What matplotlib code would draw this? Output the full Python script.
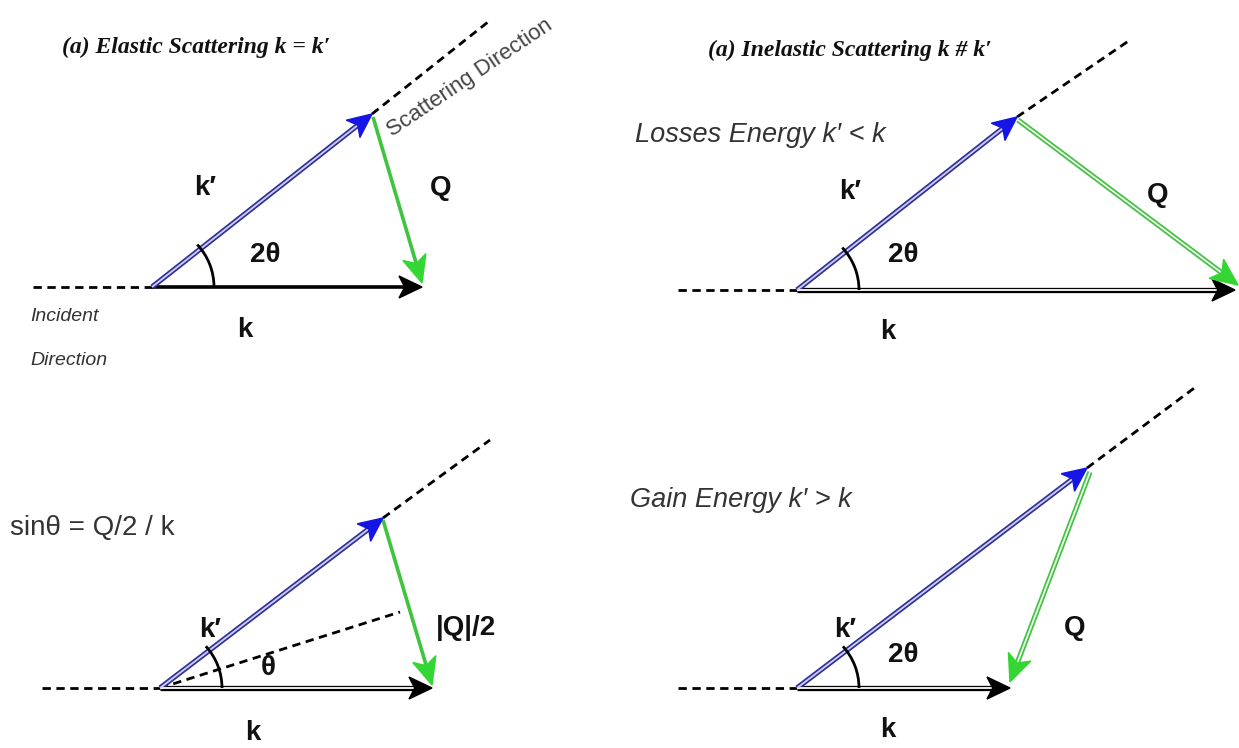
import numpy as np
import matplotlib
matplotlib.use("Agg")
import matplotlib.pyplot as plt
from matplotlib.patches import Polygon, Arc

# the four sketches, vector end points in picture pixels (y grows downward)
origins = [(152, 287), (797, 290), (160, 688), (797, 688)]
k_ends = [(422, 287), (1235, 290), (432, 688), (1010, 688)]
kp_ends = [(372, 114), (1017, 117), (383, 518), (1087, 468)]
q_starts = [(373, 117), (1018, 120), (383, 520), (1090, 472)]
q_ends = [(422, 283), (1238, 285), (432, 685), (1010, 682)]
scat_ends = [(488, 22), (1130, 40), (490, 440), (1197, 386)]
inc_starts = [(33, 287), (678, 290), (42, 688), (678, 688)]
double_k = [False, True, True, True]
double_q = [False, True, False, True]
bisector_end = (400, 612)
arc_r = 62

SANS = ['Liberation Sans', 'DejaVu Sans']
SERIF = ['Liberation Serif', 'DejaVu Serif']
PR = '\u2032'


def head(ax, p0, p1, color, L=22, w=10):
    p0 = np.array(p0, float)
    p1 = np.array(p1, float)
    u = (p1 - p0) / np.hypot(*(p1 - p0))
    n = np.array([-u[1], u[0]])
    b = p1 - u * L
    pts = [p1, b + n * w, p1 - u * L * 0.75, b - n * w]
    ax.add_patch(Polygon(pts, closed=True, fc=color, ec=color, lw=1, zorder=6))
    return p1 - u * L * 0.75


def vec(ax, p0, p1, color, hcolor, double, inner='white', L=22, w=10):
    b = head(ax, p0, p1, hcolor, L, w)
    xs, ys = [p0[0], b[0]], [p0[1], b[1]]
    if double:
        ax.plot(xs, ys, color=color, lw=3.8, solid_capstyle='butt', zorder=4)
        ax.plot(xs, ys, color=inner, lw=1.3, solid_capstyle='butt', zorder=5)
    else:
        ax.plot(xs, ys, color=color, lw=2.6, solid_capstyle='butt', zorder=4)


def dashed(ax, p0, p1):
    ax.plot([p0[0], p1[0]], [p0[1], p1[1]], color='black', lw=2,
            linestyle=(0, (3, 2)), dash_capstyle='butt', zorder=3)


fig = plt.figure(figsize=(12.39, 7.48), dpi=100)
ax = fig.add_axes([0, 0, 1, 1])
ax.set_xlim(0, 1239)
ax.set_ylim(748, 0)
ax.axis('off')

for i in range(4):
    o = origins[i]
    dashed(ax, inc_starts[i], o)
    dashed(ax, kp_ends[i], scat_ends[i])
    vec(ax, o, k_ends[i], 'black', 'black', double_k[i], L=23, w=11)
    vec(ax, o, kp_ends[i], '#30309a', '#1515e6', True, inner='#cfcfee', L=24, w=11)
    if double_q[i]:
        vec(ax, q_starts[i], q_ends[i], '#45c045', '#33d633', True,
            inner='#eafaea', L=27, w=12)
    else:
        vec(ax, q_starts[i], q_ends[i], '#3ec43e', '#33d633', False, L=27, w=12)
    ang = np.degrees(np.arctan2(kp_ends[i][1] - o[1], kp_ends[i][0] - o[0]))
    ax.add_patch(Arc(o, 2 * arc_r, 2 * arc_r, theta1=ang - 5, theta2=0,
                     color='black', lw=2, zorder=7))

dashed(ax, origins[2], bisector_end)

lab = dict(fontsize=20, family=SANS, weight='bold', color='#111111',
           ha='center', va='center')
ttl = dict(fontsize=17, family=SERIF, weight='bold', style='italic',
           ha='left', va='center', color='#111111')
note = dict(fontsize=19.5, family=SANS, style='italic', color='#333333',
            ha='left', va='center')

# panel 1
ax.text(62, 47, '(a) Elastic Scattering k = k' + PR, **ttl)
ax.text(205, 188, 'k' + PR, **lab)
ax.text(441, 188, 'Q', **lab)
ax.text(265, 255, '2\u03b8', **lab)
ax.text(245, 330, 'k', **lab)
ax.text(30, 316, 'Incident', fontsize=14, family=SANS, style='italic',
        color='#333333', ha='left', va='center')
ax.text(30, 360, 'Direction', fontsize=14, family=SANS, style='italic',
        color='#333333', ha='left', va='center')
ax.text(392, 137, 'Scattering Direction', fontsize=16, family=SANS, color='#444444',
        rotation=34, rotation_mode='anchor', ha='left', va='baseline')

# panel 2
ax.text(708, 50, '(a) Inelastic Scattering k # k' + PR, **ttl)
ax.text(635, 135, 'Losses Energy k' + PR + ' < k', **note)
ax.text(850, 192, 'k' + PR, **lab)
ax.text(1158, 195, 'Q', **lab)
ax.text(903, 255, '2\u03b8', **lab)
ax.text(888, 332, 'k', **lab)

# panel 3
ax.text(10, 528, 'sin\u03b8 = Q/2 / k', fontsize=20, family=SANS,
        color='#333333', ha='left', va='center')
ax.text(210, 630, 'k' + PR, **lab)
ax.text(466, 628, '|Q|/2', **lab)
ax.text(268, 668, '\u03b8', **lab)
ax.text(253, 733, 'k', **lab)

# panel 4
ax.text(630, 500, 'Gain Energy k' + PR + ' > k', **note)
ax.text(845, 630, 'k' + PR, **lab)
ax.text(1075, 628, 'Q', **lab)
ax.text(903, 655, '2\u03b8', **lab)
ax.text(888, 730, 'k', **lab)

fig.savefig('out.png', dpi=100, facecolor='white')
plt.close(fig)
